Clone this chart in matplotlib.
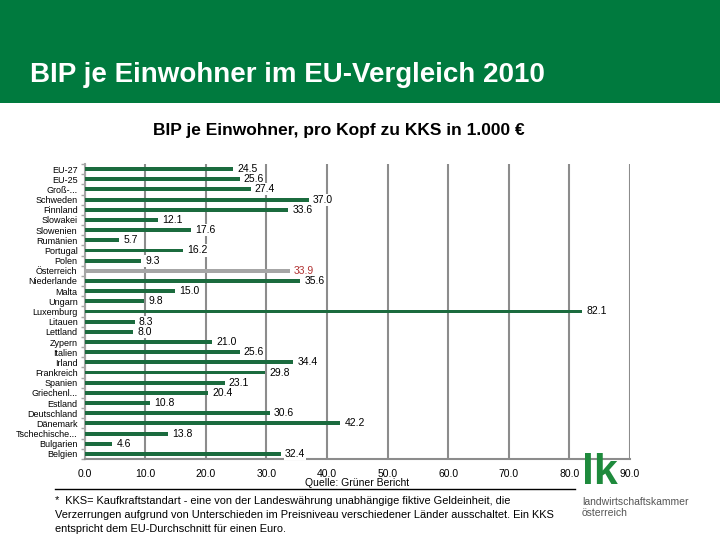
import matplotlib
matplotlib.use("Agg")
import matplotlib.pyplot as plt
from matplotlib.patches import Rectangle
from matplotlib.lines import Line2D
import numpy as np

plt.rcParams['font.family'] = ['Liberation Sans', 'DejaVu Sans']

categories = ["EU-27", "EU-25", "Groß-...", "Schweden", "Finnland", "Slowakei",
              "Slowenien", "Rumänien", "Portugal", "Polen", "Österreich",
              "Niederlande", "Malta", "Ungarn", "Luxemburg", "Litauen", "Lettland",
              "Zypern", "Italien", "Irland", "Frankreich", "Spanien", "Griechenl...",
              "Estland", "Deutschland", "Dänemark", "Tschechische...", "Bulgarien",
              "Belgien"]
values = [24.5, 25.6, 27.4, 37.0, 33.6, 12.1, 17.6, 5.7, 16.2, 9.3, 33.9,
          35.6, 15.0, 9.8, 82.1, 8.3, 8.0, 21.0, 25.6, 34.4, 29.8, 23.1, 20.4,
          10.8, 30.6, 42.2, 13.8, 4.6, 32.4]
highlight = "Österreich"
xticks = [0, 10, 20, 30, 40, 50, 60, 70, 80, 90]

green = "#1b6b3e"
grey = "#a6a6a6"
header_green = "#007a3e"

fig = plt.figure(figsize=(7.2, 5.4), dpi=100)

# header band
fig.patches.append(Rectangle((0, 1 - 103 / 540), 1, 103 / 540, transform=fig.transFigure,
                             facecolor=header_green, edgecolor="none", zorder=0))
fig.text(30 / 720, 1 - 75 / 540, "BIP je Einwohner im EU-Vergleich 2010", color="white",
         fontsize=20, fontweight="bold", va="center", ha="left")
fig.text(339 / 720, 1 - 130 / 540, "BIP je Einwohner, pro Kopf zu KKS in 1.000 €",
         color="black", fontsize=12.5, fontweight="bold", va="center", ha="center")

ax = fig.add_axes([84.5 / 720, 1 - 459 / 540, (630 - 84.5) / 720, (459 - 164) / 540])
y = np.arange(len(categories))
colors = [grey if c == highlight else green for c in categories]
ax.barh(y, values, height=0.38, color=colors, zorder=3)
ax.set_ylim(len(categories) - 0.5, -0.5)
ax.set_xlim(0, 90)
ax.set_xticks(xticks)
ax.set_xticklabels([f"{v:.1f}" for v in xticks], fontsize=7.5)
ax.set_yticks(y)
ax.set_yticklabels(categories, fontsize=6.5)
ax.tick_params(axis="y", length=0, pad=5)
ax.set_yticks(np.arange(len(categories) + 1) - 0.5, minor=True)
ax.tick_params(axis="y", which="minor", length=3, color=grey, width=1)
ax.tick_params(axis="x", length=0, pad=7)
ax.grid(axis="x", color="#8c8c8c", linewidth=1.5, zorder=0)
for s in ["top", "right"]:
    ax.spines[s].set_visible(False)
ax.spines["left"].set_color(grey)
ax.spines["left"].set_linewidth(1.5)
ax.spines["bottom"].set_color("#8c8c8c")
ax.spines["bottom"].set_linewidth(1.5)

for yi, v, c in zip(y, values, categories):
    col = "#b03030" if c == highlight else "black"
    ax.annotate(f"{v:.1f}", (v, yi), xytext=(3, 0), textcoords="offset points",
                va="center", ha="left", fontsize=7.5, color=col, zorder=4,
                bbox=dict(boxstyle="square,pad=0.1", facecolor="white", edgecolor="none"))

fig.text(357 / 720, 1 - 483 / 540, "Quelle: Grüner Bericht", fontsize=7.5,
         ha="center", va="center")
fig.lines.append(Line2D([55 / 720, 575 / 720], [1 - 489 / 540, 1 - 489 / 540],
                        transform=fig.transFigure, color="black", linewidth=1))
foot = ["*  KKS= Kaufkraftstandart - eine von der Landeswährung unabhängige fiktive Geldeinheit, die",
        "Verzerrungen aufgrund von Unterschieden im Preisniveau verschiedener Länder ausschaltet. Ein KKS",
        "entspricht dem EU-Durchschnitt für einen Euro."]
for i, line in enumerate(foot):
    fig.text(55 / 720, 1 - (501 + i * 14) / 540, line, fontsize=7.9, ha="left", va="center")

# logo
fig.text(600 / 720, 1 - 473 / 540, "lk", color="#1e8a3c", fontsize=31, fontweight="bold",
         ha="center", va="center")
fig.text(582 / 720, 1 - 502 / 540, "landwirtschaftskammer", color="#555555", fontsize=7.5,
         ha="left", va="center")
fig.text(582 / 720, 1 - 513 / 540, "österreich", color="#555555", fontsize=7.5,
         ha="left", va="center")

fig.savefig("out.png", dpi=100)
